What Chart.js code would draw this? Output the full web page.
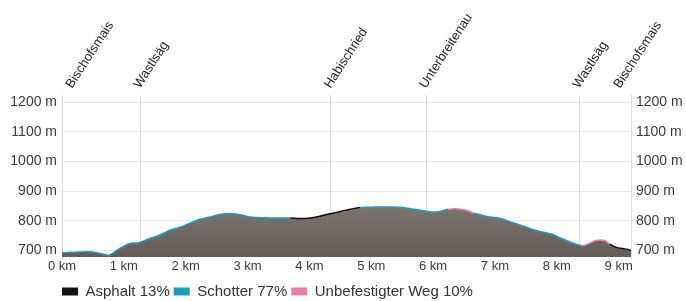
<!DOCTYPE html>
<html>
<head>
<meta charset="utf-8">
<script src="https://cdn.jsdelivr.net/npm/chart.js@4.4.1/dist/chart.umd.min.js"></script>
<style>
  html, body { margin: 0; padding: 0; background: #fff; }
  #wrap { width: 686px; height: 301px; position: relative; }
</style>
</head>
<body>
<div id="wrap"><canvas id="profile"></canvas></div>
<script>
// distance along the route (km), elevation (m), surface of the segment starting at that point
const distKm = [0, 0.44, 0.6, 0.76, 0.93, 1.09, 1.25, 1.41, 1.57, 1.74, 1.9, 2.06, 2.22, 2.39, 2.55, 2.71, 2.87,
  3.04, 3.2, 3.36, 3.52, 3.69, 3.85, 4.01, 4.17, 4.34, 4.5, 4.66, 4.82, 4.99, 5.15, 5.31, 5.47, 5.63, 5.8,
  5.96, 6.12, 6.25, 6.36, 6.53, 6.66, 6.85, 7.01, 7.09, 7.26, 7.42, 7.58, 7.74, 7.91, 8.07, 8.23, 8.39,
  8.47, 8.64, 8.77, 8.85, 8.96, 9.12, 9.2];
const elevM = [690, 693, 688, 681, 703, 720, 724, 737, 748, 765, 775, 788, 802, 810, 819, 822, 818,
  810, 808, 807, 807, 807, 805, 807, 813, 821, 829, 836, 842, 843, 844, 844, 843, 838, 833,
  827, 829, 836, 838, 833, 823, 813, 808, 805, 793, 782, 770, 761, 753, 738, 725, 714,
  716, 731, 731, 719, 708, 702, 697];
const surface = ['S', 'S', 'S', 'S', 'S', 'S', 'S', 'S', 'S', 'S', 'S', 'S', 'S', 'S', 'S', 'S', 'S',
  'S', 'S', 'S', 'S', 'A', 'A', 'A', 'A', 'A', 'A', 'A', 'S', 'S', 'S', 'S', 'S', 'S', 'S',
  'S', 'S', 'U', 'U', 'U', 'S', 'S', 'S', 'S', 'S', 'S', 'S', 'S', 'S', 'S', 'S', 'U',
  'U', 'U', 'U', 'A', 'A', 'A', 'A'];

const wayNames = ['Bischofsmais', 'Wastlsäg', 'Habischried', 'Unterbreitenau', 'Wastlsäg', 'Bischofsmais'];
const wayKm = [0, 1.26, 4.34, 5.88, 8.36, 9.2];

const kmTicks = [0, 1, 2, 3, 4, 5, 6, 7, 8, 9];
const mTicks = [700, 800, 900, 1000, 1100, 1200];

const surfaceKeys = ['A', 'S', 'U'];
const surfaceLabels = ['Asphalt 13%', 'Schotter 77%', 'Unbefestigter Weg 10%'];
const surfaceColors = { A: '#111111', S: '#1d9cb6', U: '#e97fa8' };

const FONT = '"Liberation Sans", Arial, sans-serif';

const points = distKm.map((d, i) => ({ x: d, y: elevM[i] }));

const waypointPlugin = {
  id: 'waypoints',
  afterLayout(chart) {
    // legend starts flush with the plot and sits a bit lower, like the original
    const lg = chart.legend;
    if (lg) {
      lg.left = chart.chartArea.left - 4;
      lg.top += 8;
      lg.bottom += 8;
    }
  },
  beforeDatasetsDraw(chart) {
    const { ctx, chartArea: a, scales: { x } } = chart;
    ctx.save();
    ctx.strokeStyle = '#dcdcdc';
    ctx.lineWidth = 1;
    wayKm.forEach(km => {
      const px = Math.round(x.getPixelForValue(km)) + 0.5;
      ctx.beginPath();
      ctx.moveTo(px, a.top - 7);
      ctx.lineTo(px, a.bottom);
      ctx.stroke();
    });
    ctx.restore();
  },
  afterDraw(chart) {
    const { ctx, chartArea: a, scales: { x } } = chart;
    ctx.save();
    ctx.font = '13px ' + FONT;
    ctx.fillStyle = '#1e1e1e';
    ctx.textAlign = 'left';
    ctx.textBaseline = 'alphabetic';
    wayKm.forEach((km, i) => {
      let px = x.getPixelForValue(km);
      px = Math.min(Math.max(px, a.left + 10), a.right - 11);
      ctx.save();
      ctx.translate(px, a.top - 13);
      ctx.rotate(-57 * Math.PI / 180);
      ctx.fillText(wayNames[i], 0, 0);
      ctx.restore();
    });
    ctx.restore();
  }
};

const ctx = document.getElementById('profile');

new Chart(ctx, {
  type: 'line',
  data: {
    datasets: [{
      // terrain fill, no outline (avoids seams between surface segments)
      label: 'Gelände',
      data: points,
      borderWidth: 0,
      tension: 0.2,
      pointRadius: 0,
      fill: 'start',
      backgroundColor: c => {
        const area = c.chart.chartArea;
        if (!area) return '#857c77';
        const g = c.chart.ctx.createLinearGradient(0, area.top + 50, 0, area.bottom);
        g.addColorStop(0, '#978e89');
        g.addColorStop(1, '#645c58');
        return g;
      }
    }, {
      // surface-coloured profile line
      label: 'Belag',
      data: points,
      borderWidth: 3,
      borderColor: surfaceColors.S,
      borderJoinStyle: 'round',
      tension: 0.2,
      pointRadius: 0,
      fill: false,
      segment: {
        borderColor: c => surfaceColors[surface[c.p0DataIndex]]
      }
    }]
  },
  options: {
    responsive: true,
    maintainAspectRatio: false,
    animation: false,
    devicePixelRatio: 1,
    layout: { padding: { top: 102, left: 0, right: 0, bottom: 0 } },
    plugins: {
      tooltip: { enabled: false },
      legend: {
        position: 'bottom',
        align: 'start',
        labels: {
          boxWidth: 16,
          boxHeight: 8,
          padding: 4,
          color: '#333',
          font: { family: FONT, size: 15 },
          generateLabels: () => surfaceKeys.map((k, i) => ({
            text: surfaceLabels[i],
            fillStyle: surfaceColors[k],
            strokeStyle: surfaceColors[k],
            lineWidth: 0,
            fontColor: '#333',
            hidden: false
          }))
        }
      }
    },
    scales: {
      x: {
        type: 'linear',
        min: 0,
        max: 9.2,
        afterBuildTicks: s => { s.ticks = kmTicks.map(v => ({ value: v })); },
        afterFit: s => { s.height = 15; },
        grid: { display: false, drawTicks: false },
        border: { display: false },
        ticks: {
          padding: 2,
          color: '#3a3a3a',
          font: { family: FONT, size: 13 },
          maxRotation: 0,
          autoSkip: false,
          callback: v => v + ' km'
        }
      },
      y: {
        position: 'left',
        min: 678,
        max: 1200,
        afterBuildTicks: s => { s.ticks = mTicks.map(v => ({ value: v })); },
        afterFit: s => { s.width = 62; },
        grid: { color: '#e8e8e8', drawTicks: false },
        border: { display: true, color: '#dadada' },
        ticks: {
          padding: 5,
          color: '#3a3a3a',
          font: { family: FONT, size: 14 },
          callback: v => v + ' m'
        }
      },
      y2: {
        position: 'right',
        min: 678,
        max: 1200,
        afterBuildTicks: s => { s.ticks = mTicks.map(v => ({ value: v })); },
        afterFit: s => { s.width = 55; },
        grid: { display: false, drawTicks: false },
        border: { display: true, color: '#cfcfcf', dash: [2, 2] },
        ticks: {
          padding: 5,
          color: '#3a3a3a',
          font: { family: FONT, size: 14 },
          callback: v => v + ' m'
        }
      }
    }
  },
  plugins: [waypointPlugin]
});
</script>
</body>
</html>
